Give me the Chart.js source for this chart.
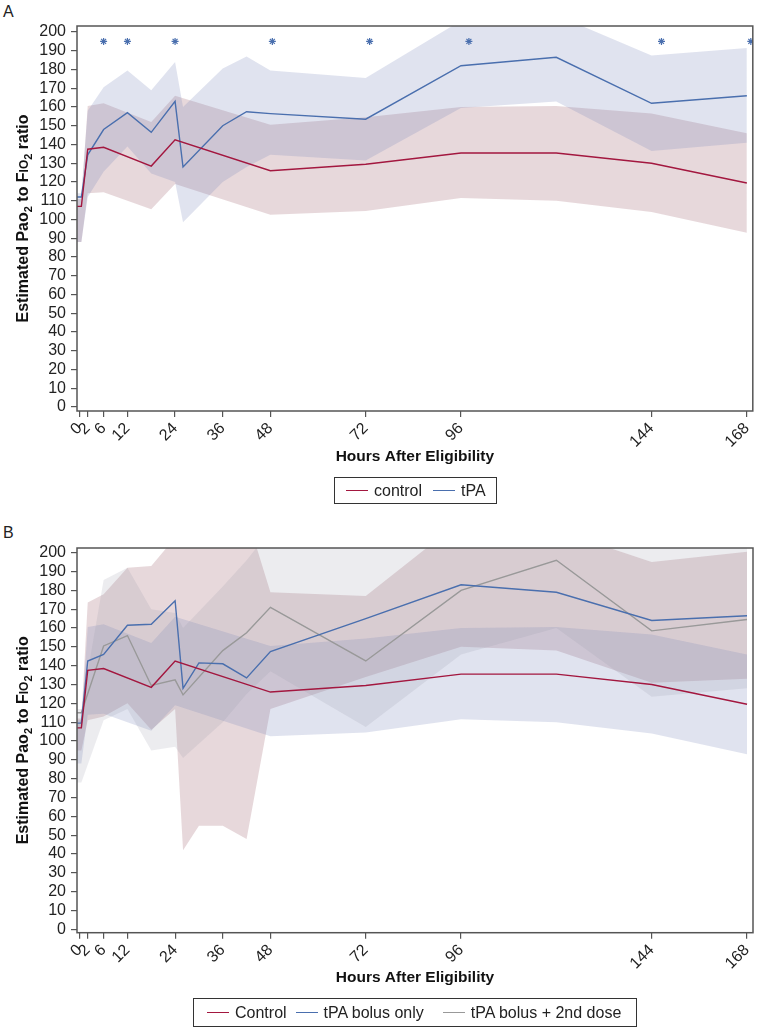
<!DOCTYPE html>
<html>
<head>
<meta charset="utf-8">
<script src="https://cdn.jsdelivr.net/npm/chart.js@4.4.1/dist/chart.umd.min.js"></script>
<style>
  body { margin: 0; background: #fff; font-family: "Liberation Sans", Arial, sans-serif; }
  #page { position: relative; width: 758px; height: 1027px; overflow: hidden; }
  .panel { position: absolute; left: 0; width: 758px; }
  .tag { position: absolute; left: 3px; font-size: 16px; line-height: 16px; color: #222; }
  .legend { position: absolute; box-sizing: border-box; border: 1px solid #333; display: flex; align-items: center;
            font-size: 16px; color: #222; white-space: nowrap; }
  .sw { display: inline-block; width: 22px; height: 0; border-top: 1.5px solid; margin-right: 6px; vertical-align: middle; }
</style>
</head>
<body>
<div id="page">
  <div class="tag" style="top:4px">A</div>
  <div class="panel" style="top:0;height:510px"><canvas id="chartA"></canvas></div>
  <div class="legend" style="left:334px;top:477px;width:163px;height:27px;padding-left:11px">
    <span class="sw" style="border-color:#a3173f"></span><span style="margin-right:11px">control</span>
    <span class="sw" style="border-color:#4a6fae"></span><span>tPA</span>
  </div>

  <div class="tag" style="top:525px">B</div>
  <div class="panel" style="top:510px;height:517px"><canvas id="chartB"></canvas></div>
  <div class="legend" style="left:193px;top:998px;width:444px;height:29px;padding-left:13px">
    <span class="sw" style="border-color:#a3173f"></span><span style="margin-right:9px">Control</span>
    <span class="sw" style="border-color:#4a6fae"></span><span style="margin-right:19px">tPA bolus only</span>
    <span class="sw" style="border-color:#999"></span><span>tPA bolus + 2nd dose</span>
  </div>
</div>

<script>
// ── axis ticks ─────────────────────────────────────────
const hourTicks  = [0, 2, 6, 12, 24, 36, 48, 72, 96, 144, 168];
const ratioTicks = [0, 10, 20, 30, 40, 50, 60, 70, 80, 90, 100, 110, 120, 130, 140, 150, 160, 170, 180, 190, 200];

// ── control group (both panels) ───────────────────────
const ctlHours = [-0.7, 0.4, 2, 6, 18, 24, 48, 72, 96, 120, 144, 168];
const ctlMean  = [107, 107, 137.5, 138.5, 128.5, 142.5, 126, 129.5, 135.5, 135.5, 130, 119.5];
const ctlUpper = [111, 111, 160.5, 162, 152, 166, 150.5, 154.5, 160, 160.5, 156.5, 146];
const ctlLower = [88, 88, 114, 114.5, 105.5, 119, 102.5, 104.5, 111.5, 110, 104, 93];

// ── panel A: tPA (all) ────────────────────────────────
const tpaHours = [-0.7, 0.4, 2, 6, 12, 18, 24, 26, 36, 42, 48, 72, 96, 120, 144, 168];
const tpaMean  = [112, 112, 134.5, 148, 157, 146.5, 163, 128, 150, 157.5, 156.5, 153.5, 182, 186.5, 162, 166];
const tpaUpper = [114, 114, 158, 170.5, 179.5, 169, 184, 160, 180.5, 187, 179.5, 175.5, 206, 209, 187.5, 191.5];
const tpaLower = [88, 88, 112, 125.5, 139, 124.5, 120, 98.5, 120, 128, 134.5, 131.5, 159.5, 163, 136.5, 141];

// significance markers (panel A)
const starHours = [6, 12, 24, 48.5, 73, 98, 146.5, 169];
const starLevel = [195, 195, 195, 195, 195, 195, 195, 195];

// ── panel B: tPA bolus only ───────────────────────────
const bolusHours = [-0.7, 0.4, 2, 6, 12, 18, 24, 26, 30, 36, 42, 48, 72, 96, 120, 144, 168];
const bolusMean  = [109.5, 109.5, 142.5, 146, 161.5, 162, 174.5, 128, 141.5, 141, 133.5, 147.5, 165, 183, 179, 164, 166.5];
const bolusUpper = [112, 112, 173.5, 178, 192, 193, 208, 212, 215, 216, 220, 179, 177, 217, 212, 195, 200.5];
const bolusLower = [95, 95, 111, 113, 120, 106, 117, 42, 55, 55, 48, 117, 134, 150, 148, 131, 133];

// ── panel B: tPA bolus + 2nd dose ─────────────────────
const doseHours = [-0.7, 0.4, 6, 12, 18, 24, 26, 36, 42, 48, 72, 96, 120, 144, 168];
const doseMean  = [115, 115, 150.5, 156, 129.5, 132.5, 124.5, 148, 157.5, 171, 142.5, 180, 196, 158.5, 164.5];
const doseUpper = [117, 117, 185.5, 192, 170, 168, 160, 182, 196, 212, 210, 215, 222, 206, 206];
const doseLower = [78, 78, 111, 117, 95, 97, 91, 110, 125, 137, 107.5, 146, 160, 123.5, 128];

const RED = '#a3173f', BLUE = '#4a6fae', GREY = '#999999';
const PINK_FILL = 'rgba(177,125,137,0.30)';
const LAV_FILL  = 'rgba(120,135,185,0.23)';
const GREY_FILL = 'rgba(150,150,165,0.18)';
const FONT = '"Liberation Sans", Arial, sans-serif';

function pts(xs, ys) { return xs.map((x, i) => ({ x: x, y: ys[i] })); }

function band(xs, hi, lo, color) {
  return [
    { data: pts(xs, hi), fill: '+1', backgroundColor: color, borderWidth: 0, pointRadius: 0, order: 3 },
    { data: pts(xs, lo), fill: false, borderWidth: 0, pointRadius: 0, order: 3 },
  ];
}

function line(xs, ys, color) {
  return { data: pts(xs, ys), fill: false, borderColor: color, borderWidth: 1.4, pointRadius: 0, tension: 0, order: 1 };
}

/* ── frame + y title with subscripts ───────────────── */
const framePlugin = {
  id: 'frame',
  afterDraw(chart) {
    const { ctx, chartArea: a } = chart;
    ctx.save();
    ctx.strokeStyle = '#555';
    ctx.lineWidth = 1.5;
    ctx.strokeRect(a.left, a.top, a.right - a.left, a.bottom - a.top);

    const parts = [
      ['Estimated Pao', 'bold 16px ' + FONT, 0],
      ['2', 'bold 11px ' + FONT, 4],
      [' to F', 'bold 16px ' + FONT, 0],
      ['IO', 'bold 12px ' + FONT, 0],
      ['2', 'bold 11px ' + FONT, 4],
      [' ratio', 'bold 16px ' + FONT, 0],
    ];
    let total = 0;
    parts.forEach(p => { ctx.font = p[1]; total += ctx.measureText(p[0]).width; });
    ctx.translate(27.5, (a.top + a.bottom) / 2);
    ctx.rotate(-Math.PI / 2);
    ctx.fillStyle = '#111';
    ctx.textBaseline = 'alphabetic';
    let x = -total / 2;
    parts.forEach(p => {
      ctx.font = p[1];
      ctx.fillText(p[0], x, p[2]);
      x += ctx.measureText(p[0]).width;
    });
    ctx.restore();
  }
};

function makeChart(id, datasets, padTop, axisH, yMin, yMax, titlePad) {
  return new Chart(document.getElementById(id), {
    type: 'line',
    data: { datasets },
    plugins: [framePlugin],
    options: {
      responsive: true,
      maintainAspectRatio: false,
      animation: false,
      events: [],
      layout: { padding: { left: 0, top: padTop, right: 5, bottom: 0 } },
      plugins: { legend: { display: false }, tooltip: { enabled: false } },
      scales: {
        x: {
          type: 'linear', min: -0.7, max: 169.5,
          afterBuildTicks: s => { s.ticks = hourTicks.map(v => ({ value: v })); },
          afterFit: s => { s.height = axisH; s.paddingLeft = 0; s.paddingRight = 0; },
          ticks: { autoSkip: false, minRotation: 45, maxRotation: 45, color: '#222', padding: 2,
                   font: { family: FONT, size: 16 } },
          grid: { drawOnChartArea: false, drawTicks: true, tickLength: 6, color: '#555', lineWidth: 1.2 },
          border: { display: false },
          title: { display: true, text: 'Hours After Eligibility', color: '#111',
                   font: { family: FONT, size: 15.5, weight: 'bold' }, padding: { top: 0, bottom: titlePad } },
        },
        y: {
          min: yMin, max: yMax,
          afterBuildTicks: s => { s.ticks = ratioTicks.map(v => ({ value: v })); },
          afterFit: s => { s.width = 77; },
          ticks: { autoSkip: false, color: '#222', padding: 5, font: { family: FONT, size: 16 } },
          grid: { drawOnChartArea: false, drawTicks: true, tickLength: 6, color: '#555', lineWidth: 1.2 },
          border: { display: false },
        },
      },
    },
  });
}

/* ── Panel A ───────────────────────────────────────── */
makeChart('chartA', [
  ...band(tpaHours, tpaUpper, tpaLower, LAV_FILL),
  ...band(ctlHours, ctlUpper, ctlLower, PINK_FILL),
  line(ctlHours, ctlMean, RED),
  line(tpaHours, tpaMean, BLUE),
  { data: pts(starHours, starLevel), showLine: false, pointStyle: 'star', pointRadius: 3.5,
    borderColor: BLUE, borderWidth: 1.2, order: 0 },
], 26, 99, -2.1, 203.2, 43.7);

/* ── Panel B ───────────────────────────────────────── */
makeChart('chartB', [
  ...band(doseHours, doseUpper, doseLower, GREY_FILL),
  ...band(ctlHours, ctlUpper, ctlLower, LAV_FILL),
  ...band(bolusHours, bolusUpper, bolusLower, PINK_FILL),
  line(ctlHours, ctlMean, RED),
  line(bolusHours, bolusMean, BLUE),
  line(doseHours, doseMean, GREY),
], 38, 94.3, -1.8, 202.5, 39.7);
</script>
</body>
</html>
